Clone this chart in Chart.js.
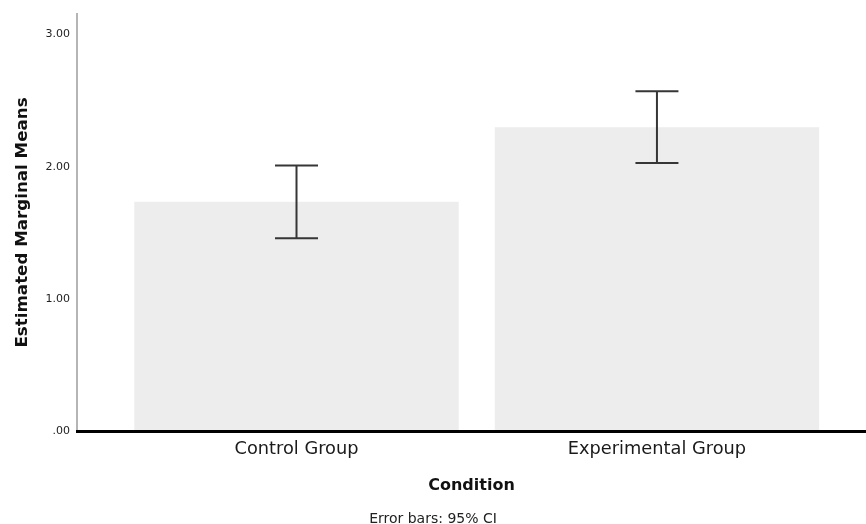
<!DOCTYPE html>
<html>
<head>
<meta charset="utf-8">
<script src="https://cdn.jsdelivr.net/npm/chart.js@4.4.1/dist/chart.umd.min.js"></script>
<style>
  html,body{margin:0;padding:0;background:#fff;}
  #wrap{width:866px;height:524px;}
</style>
</head>
<body>
<div id="wrap"><canvas id="cMeans"></canvas></div>
<script>
// valores
const categorias = ['Control Group', 'Experimental Group'];
const posicoes   = [0, 1];
const medias     = [1.735, 2.298];
const ciInferior = [1.459, 2.028];
const ciSuperior = [2.010, 2.571];
const yTicks      = [0, 1, 2, 3];
const yTickLabels = ['.00', '1.00', '2.00', '3.00'];

const FONTE = "'DejaVu Sans', sans-serif";

// barras de erro (IC 95%)
const errorBars = {
  id:'errorBars',
  afterDatasetsDraw(chart){
    const {ctx, scales:{x, y}} = chart;
    ctx.save();
    ctx.strokeStyle = '#363636';
    ctx.lineWidth = 2;
    posicoes.forEach((p,i)=>{
      const cx = x.getPixelForValue(p);
      const yt = y.getPixelForValue(ciSuperior[i]);
      const yb = y.getPixelForValue(ciInferior[i]);
      ctx.beginPath();
      ctx.moveTo(cx, yt); ctx.lineTo(cx, yb);
      ctx.moveTo(cx-21.5, yt); ctx.lineTo(cx+21.5, yt);
      ctx.moveTo(cx-21.5, yb); ctx.lineTo(cx+21.5, yb);
      ctx.stroke();
    });
    ctx.restore();
  }
};

new Chart(document.getElementById('cMeans'), {
  type:'bar',
  data:{
    datasets:[{
      data: posicoes.map((p,i)=>({x:p, y:medias[i]})),
      backgroundColor:'#ededed',
      borderWidth:0,
      barPercentage:0.9,
      categoryPercentage:1.0
    }]
  },
  options:{
    responsive:true, maintainAspectRatio:false, animation:false,
    layout:{ padding:{ top:13, left:0, right:0, bottom:0 } },
    scales:{
      x:{
        type:'linear', min:-0.609, max:1.58, offset:false,
        afterBuildTicks: s => { s.ticks = posicoes.map(v=>({value:v})); },
        ticks:{ color:'#1a1a1a', font:{family:FONTE, size:17.8}, padding:7.5, autoSkip:false, maxRotation:0,
                callback: v => categorias[posicoes.indexOf(v)] ?? '' },
        grid:{ offset:false, drawOnChartArea:false, drawTicks:false },
        border:{ display:true, color:'#000', width:3, z:1 },
        title:{ display:true, text:'Condition', color:'#111', font:{family:FONTE, size:16, weight:'bold'}, padding:{top:8.5, bottom:2} }
      },
      y:{
        min:0, max:3.158,
        afterBuildTicks: s => { s.ticks = yTicks.map(v=>({value:v})); },
        afterFit: s => { s.width = 77; },
        ticks:{ color:'#222', font:{family:FONTE, size:11}, padding:7,
                callback: v => yTickLabels[yTicks.indexOf(v)] ?? '' },
        grid:{ drawOnChartArea:false, drawTicks:false },
        border:{ display:true, color:'#b5b5b5', width:2 },
        title:{ display:true, text:'Estimated Marginal Means', color:'#111', font:{family:FONTE, size:16.7, weight:'bold'}, padding:{top:13, bottom:4} }
      }
    },
    plugins:{
      legend:{ display:false },
      tooltip:{ enabled:false },
      title:{ display:true, position:'bottom', text:'Error bars: 95% CI', color:'#222',
              font:{family:FONTE, size:14, weight:'normal', lineHeight:0.614}, padding:{top:18, bottom:0} }
    }
  },
  plugins:[errorBars]
});
</script>
</body>
</html>
